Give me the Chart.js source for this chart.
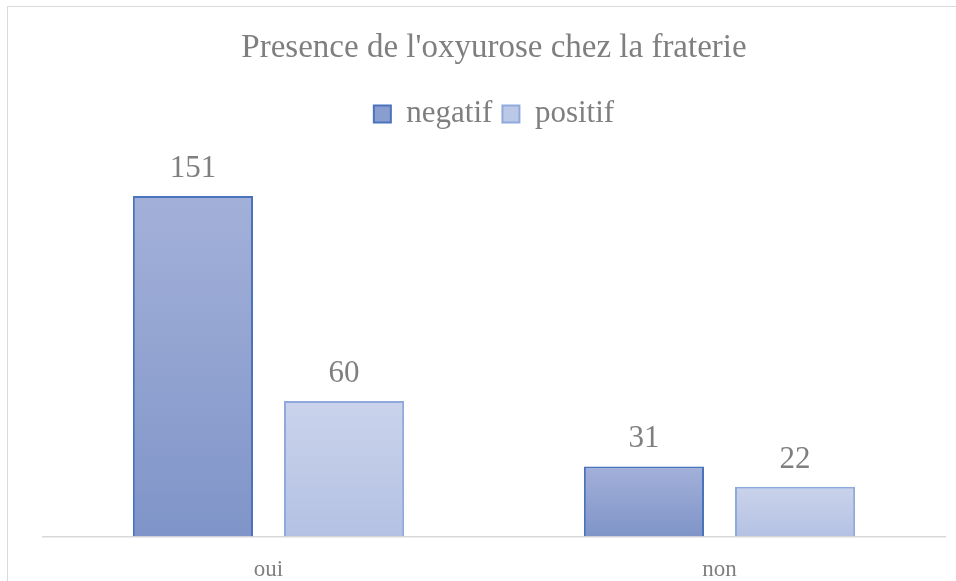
<!DOCTYPE html>
<html>
<head>
<meta charset="utf-8">
<script src="https://cdn.jsdelivr.net/npm/chart.js@4"></script>
<style>
  html, body { margin: 0; padding: 0; background: #fff; overflow: hidden; }
  #wrap { position: relative; width: 956px; height: 581px; overflow: hidden; }
  #fraterieChart { display: block; }
  #frame {
    position: absolute; left: 7px; top: 6px; width: 980px; height: 620px;
    border: 1.5px solid #d9d9d9; pointer-events: none;
  }
</style>
</head>
<body>
<div id="wrap">
  <canvas id="fraterieChart" width="956" height="596"></canvas>
  <div id="frame"></div>
</div>
<script>
// Data
const categories = ["oui", "non"];
const seriesNames = ["negatif", "positif"];
const negatifValues = [151, 31];
const positifValues = [60, 22];
const yMax = 160;

const FONT = "'Liberation Serif', 'Times New Roman', serif";
const GREY = "#7f7f7f";

// gradient per bar: lighter at top, darker at bottom
function barFill(topColor, bottomColor) {
  return function (ctx) {
    const chart = ctx.chart;
    if (ctx.type !== "data" || !chart.chartArea || !chart.scales.y) return bottomColor;
    const y = chart.scales.y;
    const yTop = y.getPixelForValue(ctx.raw);
    const yBase = y.getPixelForValue(0);
    const g = chart.ctx.createLinearGradient(0, yTop, 0, yBase);
    g.addColorStop(0, topColor);
    g.addColorStop(1, bottomColor);
    return g;
  };
}

// value labels above bars
const valueLabels = {
  id: "valueLabels",
  afterDatasetsDraw(chart) {
    const ctx = chart.ctx;
    ctx.save();
    ctx.font = "31px " + FONT;
    ctx.fillStyle = GREY;
    ctx.textAlign = "center";
    ctx.textBaseline = "alphabetic";
    chart.data.datasets.forEach(function (ds, i) {
      chart.getDatasetMeta(i).data.forEach(function (bar, j) {
        ctx.fillText(ds.data[j], bar.x, bar.y - 19);
      });
    });
    ctx.restore();
  },
};

// extra room under the legend
const legendGap = {
  id: "legendGap",
  beforeInit(chart) {
    const fit = chart.legend.fit;
    chart.legend.fit = function () {
      fit.bind(chart.legend)();
      this.height += 36;
    };
  },
};

const legendFill = ["#8a9dcf", "#bcc8e7"];

document.addEventListener("DOMContentLoaded", function () {
  const ctx = document.getElementById("fraterieChart").getContext("2d");
  new Chart(ctx, {
    type: "bar",
    data: {
      labels: categories,
      datasets: [
        {
          label: seriesNames[0],
          data: negatifValues,
          backgroundColor: barFill("#a3b1d9", "#7f94c8"),
          borderColor: "#4a72bd",
          borderWidth: 2,
          borderSkipped: "bottom",
          categoryPercentage: 0.67,
          barPercentage: 0.795,
        },
        {
          label: seriesNames[1],
          data: positifValues,
          backgroundColor: barFill("#cad3eb", "#b4c1e3"),
          borderColor: "#8fa9dc",
          borderWidth: 2,
          borderSkipped: "bottom",
          categoryPercentage: 0.67,
          barPercentage: 0.795,
        },
      ],
    },
    options: {
      responsive: false,
      animation: false,
      layout: {
        padding: { left: 43, right: 11, top: 0, bottom: 0 },
      },
      plugins: {
        title: {
          display: true,
          text: "Presence de l'oxyurose chez la fraterie",
          color: GREY,
          font: { family: FONT, size: 33, weight: "normal" },
          padding: { top: 29, bottom: 20 },
        },
        legend: {
          position: "top",
          labels: {
            color: GREY,
            font: { family: FONT, size: 31 },
            boxWidth: 17,
            boxHeight: 17,
            padding: 10,
            generateLabels: function (chart) {
              return chart.data.datasets.map(function (ds, i) {
                return {
                  text: ds.label,
                  fillStyle: legendFill[i],
                  strokeStyle: ds.borderColor,
                  lineWidth: 2,
                  fontColor: GREY,
                  datasetIndex: i,
                };
              });
            },
          },
        },
        tooltip: { enabled: false },
      },
      scales: {
        x: {
          grid: { display: false },
          border: { color: "#d9d9d9", width: 1.5 },
          ticks: {
            color: GREY,
            font: { family: FONT, size: 23 },
            padding: 12,
          },
        },
        y: {
          display: false,
          beginAtZero: true,
          max: yMax,
        },
      },
    },
    plugins: [valueLabels, legendGap],
  });
});
</script>
</body>
</html>
